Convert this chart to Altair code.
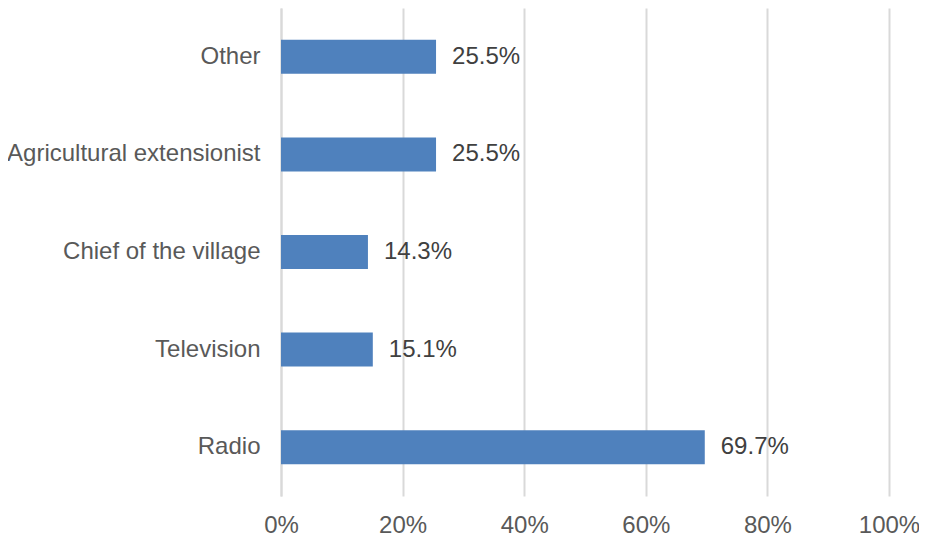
import altair as alt
import pandas as pd

categories = ["Other", "Agricultural extensionist", "Chief of the village", "Television", "Radio"]
values = [0.255, 0.255, 0.143, 0.151, 0.697]
labels = ["25.5%", "25.5%", "14.3%", "15.1%", "69.7%"]

df = pd.DataFrame({"cat": categories, "val": values, "lab": labels})

y_enc = alt.Y("cat:N", sort=categories, title=None,
              scale=alt.Scale(paddingInner=0, paddingOuter=0),
              axis=alt.Axis(labelFont="Liberation Sans", labelFontSize=24, labelColor="#595959",
                            labelPadding=21, ticks=False, domain=True, domainColor="#d9d9d9",
                            domainWidth=2, labelLimit=400))
x_enc = alt.X("val:Q", title=None,
              scale=alt.Scale(domain=[0, 1], nice=False),
              axis=alt.Axis(values=[0, 0.2, 0.4, 0.6, 0.8, 1.0], format=".0%",
                            labelFont="Liberation Sans", labelFontSize=24, labelColor="#595959",
                            labelPadding=17, labelFlush=False, labelAlign="center",
                            labelOverlap=False,
                            ticks=False, domain=False, grid=True,
                            gridColor="#d9d9d9", gridWidth=2))

bars = alt.Chart(df).mark_bar(size=34, color="#4F81BD").encode(x=x_enc, y=y_enc)
text = alt.Chart(df).mark_text(align="left", baseline="middle", dx=16, font="Liberation Sans",
                               fontSize=24, color="#404040").encode(
    x=alt.X("val:Q"), y=alt.Y("cat:N", sort=categories), text="lab:N")

chart = (bars + text).properties(
    width=608, height=488,
    autosize=alt.AutoSizeParams(type="none"),
    padding={"left": 273, "top": 0, "right": 30, "bottom": 42},
).configure_view(stroke=None)

chart.save("out.html", embed_options={"renderer": "svg", "actions": False})
